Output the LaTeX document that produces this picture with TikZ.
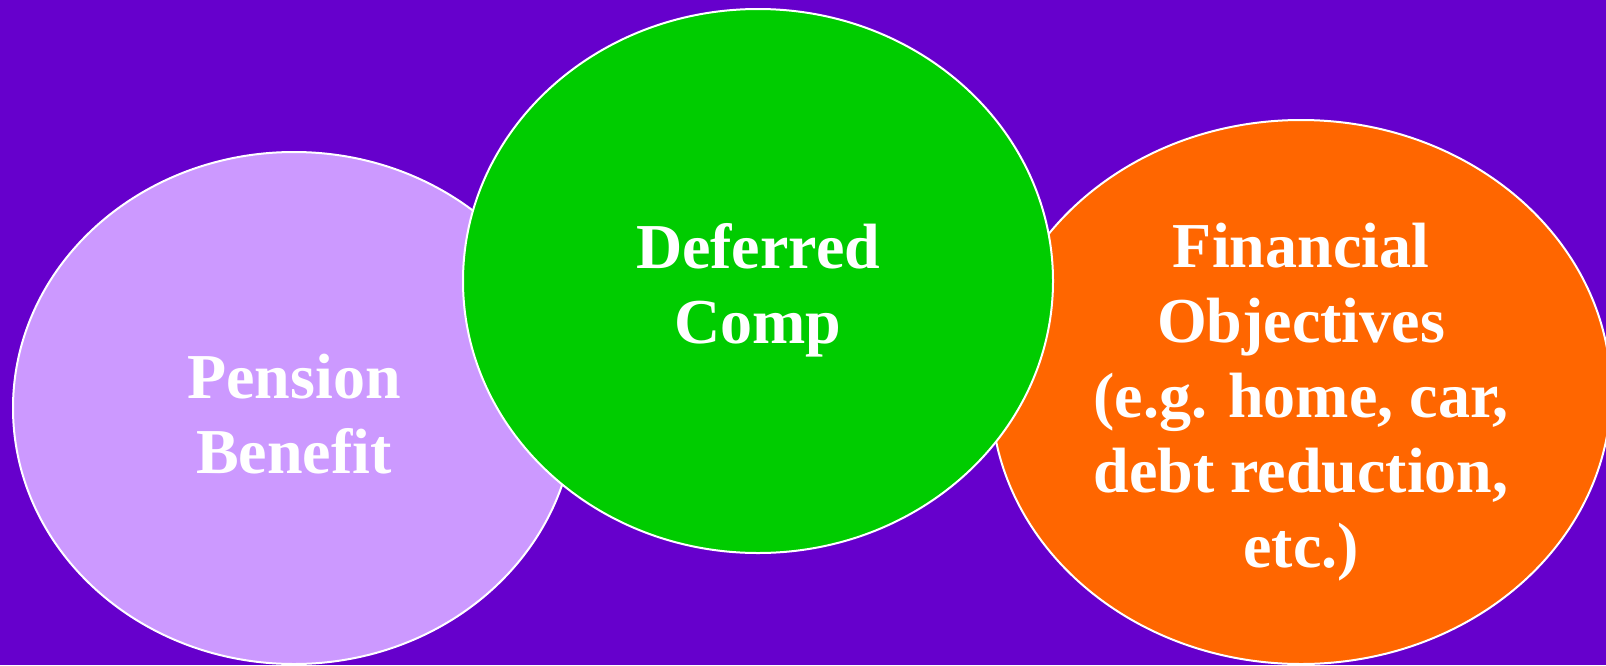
\documentclass[tikz,border=0pt]{standalone}
\usepackage{fontspec}
\setmainfont{Liberation Serif}
\usetikzlibrary{shapes.geometric}
\definecolor{bgpurple}{HTML}{6600CC}
\definecolor{lilac}{HTML}{CC99FF}
\definecolor{grn}{HTML}{00CC00}
\definecolor{orng}{HTML}{FF6600}
\begin{document}
\begin{tikzpicture}[x=1pt,y=-1pt,
  bubble/.style={ellipse, draw=white, line width=2pt, inner sep=0pt},
  label text/.style={text=white, align=center, inner sep=0pt,
    font=\fontsize{64}{75}\selectfont\bfseries}]
\useasboundingbox (0,0) rectangle (1606,665);
\fill[bgpurple] (0,0) rectangle (1606,665);
\clip (0,0) rectangle (1606,665);
\node[bubble, fill=lilac, minimum width=562pt, minimum height=512pt] (pension) at (294,408) {};
\node[label text] (pensiontxt) at (294,414) {Pension\\Benefit};
\node[bubble, fill=orng, minimum width=620pt, minimum height=544pt] (fin) at (1301,392) {};
\node[label text] (fintxt) at (1301,402) {Financial\\Objectives\\(e.g. home, car,\\debt reduction,\\etc.)};
\node[bubble, fill=grn, minimum width=590pt, minimum height=544pt] (def) at (758,281) {};
\node[label text] (deftxt) at (758,290) {Deferred\\Comp};
\end{tikzpicture}
\end{document}
